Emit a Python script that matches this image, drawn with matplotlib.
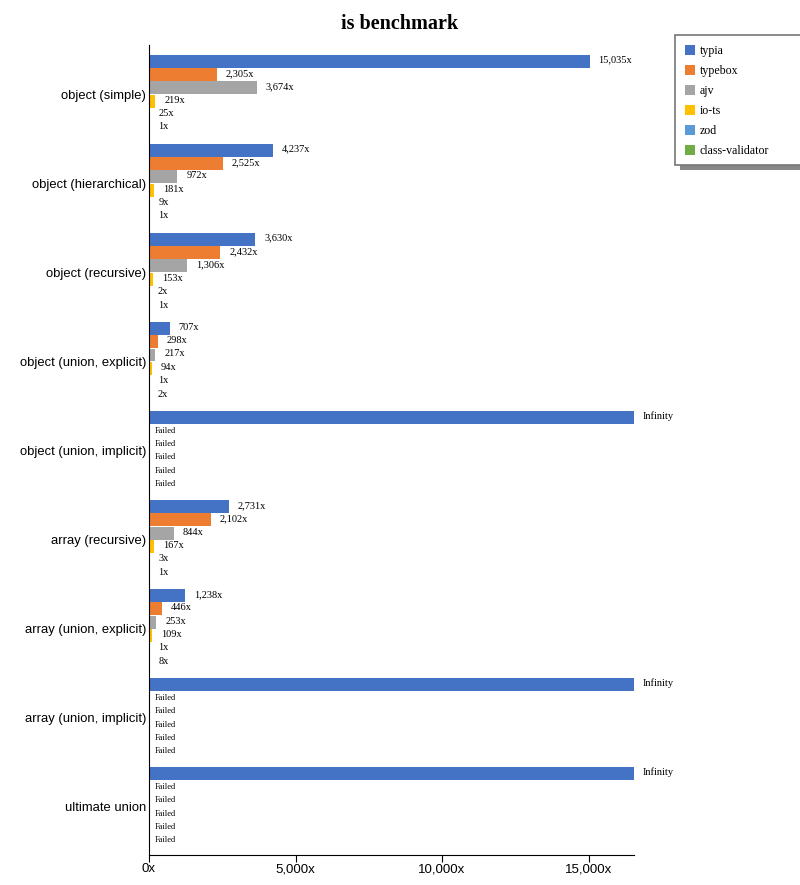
import numpy as np
import matplotlib
matplotlib.use('Agg')
from matplotlib import pyplot as plt
from matplotlib.patches import Rectangle

categories = ['object (simple)', 'object (hierarchical)', 'object (recursive)',
              'object (union, explicit)', 'object (union, implicit)',
              'array (recursive)', 'array (union, explicit)',
              'array (union, implicit)', 'ultimate union']
libraries = ['typia', 'typebox', 'ajv', 'io-ts', 'zod', 'class-validator']
colors = ['#4472C4', '#ED7D31', '#A5A5A5', '#FFC000', '#5B9BD5', '#70AD47']

inf = np.inf
nan = np.nan  # "Failed"
typia = [15035, 4237, 3630, 707, inf, 2731, 1238, inf, inf]
typebox = [2305, 2525, 2432, 298, nan, 2102, 446, nan, nan]
ajv = [3674, 972, 1306, 217, nan, 844, 253, nan, nan]
io_ts = [219, 181, 153, 94, nan, 167, 109, nan, nan]
zod = [25, 9, 2, 1, nan, 3, 1, nan, nan]
class_validator = [1, 1, 1, 2, nan, 1, 8, nan, nan]
series = [typia, typebox, ajv, io_ts, zod, class_validator]

xmax = 16550
xticks = [0, 5000, 10000, 15000]
xticklabels = ['0x', '5,000x', '10,000x', '15,000x']

W, H = 800, 885
fig = plt.figure(figsize=(W/100, H/100), dpi=100)
ax = fig.add_axes([149/W, 1 - 855/H, 485/W, 810/H])

bar_h = 0.15
ypos = np.arange(len(categories))
for j, (name, vals, c) in enumerate(zip(libraries, series, colors)):
    off = (j - 2.5) * bar_h
    for i, v in enumerate(vals):
        y = ypos[i] + off
        if np.isnan(v):
            ax.annotate('Failed', (0, y), xytext=(6, 0), textcoords='offset pixels',
                        va='center', ha='left', fontsize=6, family='Liberation Serif')
            continue
        w = xmax if np.isinf(v) else v
        ax.barh(y, w, height=bar_h * 0.97, color=c)
        txt = 'Infinity' if np.isinf(v) else '{:,}x'.format(int(v))
        ax.annotate(txt, (w, y), xytext=(9, 1), textcoords='offset pixels',
                    va='center', ha='left', fontsize=7.5, family='Liberation Serif')

ax.set_xlim(0, xmax)
ax.set_ylim(8.54, -0.556)
ax.set_yticks(ypos)
ax.set_yticklabels(categories, family='Liberation Sans', fontsize=9.4)
ax.tick_params(axis='y', length=0, pad=2)
ax.set_xticks(xticks)
ax.set_xticklabels(xticklabels, family='Liberation Sans', fontsize=9.5)
ax.tick_params(axis='x', length=5, pad=1)
for s in ['top', 'right']:
    ax.spines[s].set_visible(False)

fig.text(0.5, 1 - 24/H, 'is benchmark', ha='center', va='center',
         fontsize=14.5, fontweight='bold', family='Liberation Serif')

# legend box drawn by hand (it runs past the right edge in the original)
def fx(px):
    return px / W

def fy(py):
    return 1 - py / H

fig.patches.append(Rectangle((fx(680), fy(170)), fx(130), 130/H, transform=fig.transFigure,
                             facecolor='#888888', edgecolor='none', zorder=1))
fig.patches.append(Rectangle((fx(675), fy(165)), fx(130), 130/H, transform=fig.transFigure,
                             facecolor='white', edgecolor='#777777', linewidth=1.2, zorder=2))
for k, (name, c) in enumerate(zip(libraries, colors)):
    yc = 50 + 20 * k
    fig.patches.append(Rectangle((fx(685), fy(yc + 5)), fx(10), 10/H, transform=fig.transFigure,
                                 facecolor=c, edgecolor='none', zorder=3))
    fig.text(fx(700), fy(yc + 1), name, ha='left', va='center', fontsize=8.6,
             family='Liberation Serif', zorder=4)

fig.savefig('out.png', dpi=100)
